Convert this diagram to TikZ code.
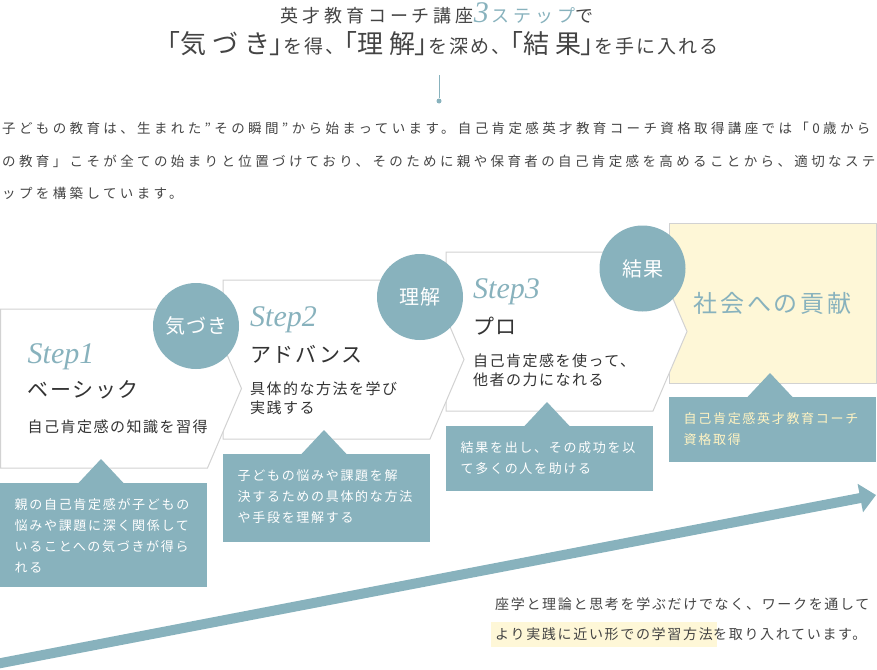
\documentclass[tikz,border=0pt]{standalone}
\usepackage{fontspec}
\setmainfont{Noto Sans CJK JP}
\newfontfamily\latinserif{Liberation Serif}
\usetikzlibrary{positioning,arrows.meta}
\newcommand\setfs[3]{\fontsize{#1}{#2}\selectfont\addfontfeature{LetterSpace=#3}}
\newcommand\palt[1]{{\addfontfeature{RawFeature=+palt}#1}}
\newcommand\headbig[1]{{\setfs{26}{26}{23}#1}}
\newcommand\headsmall[1]{{\setfs{19}{19}{11}#1}}
\begin{document}
\begin{tikzpicture}[x=1pt,y=-1pt,
  stepframe/.style={fill=white,draw=edgegray,line width=1pt},
  steplabel/.style={anchor=base west,inner sep=0,text=stepteal,font=\latinserif\itshape\fontsize{30}{30}\selectfont},
  stepname/.style={anchor=west,inner sep=0,text=inkdark,font=\setfs{21}{21}{8}},
  stepdesc/.style={anchor=west,inner sep=0,text=inkdark,align=left,font=\setfs{15}{19}{10}},
  keyword/.style={circle,fill=stepteal,minimum size=86pt,inner sep=0,text=white,font=\setfs{20}{20}{5}},
  notebox/.style={fill=stepteal,minimum width=207pt,anchor=north west,inner sep=0},
  notetext/.style={inner sep=0,align=left,font=\setfs{13}{21}{13}},
  intro/.style={anchor=west,inner sep=0,text=inkgray,font=\setfs{13.5}{13.5}{25}},
  method/.style={anchor=west,inner sep=0,text=inkgray,font=\setfs{14}{14}{12}}]
\definecolor{stepteal}{HTML}{88B2BD}
\definecolor{goalyellow}{HTML}{FEF7D7}
\definecolor{notecream}{HTML}{FFF3C2}
\definecolor{inkgray}{HTML}{444444}
\definecolor{inkdark}{HTML}{333333}
\definecolor{edgegray}{HTML}{D2D2D2}
\useasboundingbox (0,0) rectangle (877,669);

\node[anchor=base,inner sep=0,text=inkgray] (head1) at (437,23) {{\setfs{18}{18}{22}英才教育コーチ講座}{\color{stepteal}{\latinserif\itshape\fontsize{30}{30}\selectfont 3\hspace{3pt}}{\setfs{18}{18}{22}ステップ}}{\setfs{18}{18}{22}で}};
\node[anchor=base,inner sep=0,text=inkgray] (head2) at (443,54) {\headbig{\palt{「}気づき\palt{」}}\headsmall{を得、}\headbig{\palt{「}理解\palt{」}}\headsmall{を深め、}\headbig{\palt{「}結果\palt{」}}\headsmall{を手に入れる}};
\coordinate (lineTop) at (439,75);
\node[circle,fill=stepteal,inner sep=0,minimum size=5pt] (lineDot) at (439,101) {};
\draw[stepteal,line width=1pt] (lineTop) -- (lineDot);

\node[intro] (intro1) at (2,128) {子どもの教育は、生まれた”その瞬間”から始まっています。自己肯定感英才教育コーチ資格取得講座では「0歳から};
\node[intro] (intro2) at (2,161) {の教育」こそが全ての始まりと位置づけており、そのために親や保育者の自己肯定感を高めることから、適切なステ};
\node[intro] (intro3) at (2,193) {ップを構築しています。};

\node[draw=edgegray,fill=goalyellow,line width=1pt,minimum width=207pt,minimum height=160pt,inner sep=0,text=stepteal,font=\setfs{24}{24}{12}] (goal) at (772.5,303) {社会への貢献};
\foreach \n/\bx/\by in {3/446/252,2/223/280,1/0.5/309}
  \draw[stepframe] (\bx,\by) coordinate (frame\n) -- ++(207,0) -- ++(34,79.5) -- ++(-34,79.5) -- ++(-207,0) -- cycle;

\foreach \n/\sy/\ny/\title/\desc in {1/54/81/ベーシック/自己肯定感の知識を習得,2/46.5/74/アドバンス/{具体的な方法を学び\\実践する},3/46.5/74/プロ/{自己肯定感を使って、\\他者の力になれる}}{
  \node[steplabel] (label\n) at ([shift={(27,\sy)}]frame\n) {Step\n};
  \node[stepname] (name\n) at ([shift={(27,\ny)}]frame\n) {\title};
  \node[stepdesc] (desc\n) at ([shift={(27,118)}]frame\n) {\desc};
}

\foreach \n/\bx/\by/\bh/\ink/\txt in {1/0/483/104/white/{親の自己肯定感が子どもの\\悩みや課題に深く関係して\\いることへの気づきが得ら\\れる},2/223/454/88/white/{子どもの悩みや課題を解\\決するための具体的な方法\\や手段を理解する},3/446/426/65/white/{結果を出し、その成功を以\\て多くの人を助ける},4/669/397/65/notecream/{自己肯定感英才教育コーチ\\資格取得}}{
  \node[notebox,minimum height=\bh pt] (note\n) at (\bx,\by) {};
  \fill[stepteal] ([xshift=78.5pt]note\n.north west) -- ([xshift=101pt,yshift=24pt]note\n.north west) -- ([xshift=123.5pt]note\n.north west) -- cycle;
  \node[notetext,text=\ink,below right=15.5pt and 14.5pt of note\n.north west] (notetext\n) {\txt};
}

\foreach \n/\cx/\cy/\word in {1/196/326/気づき,2/420/297/理解,3/642.5/268.5/結果}
  \node[keyword] (keyword\n) at (\cx,\cy) {\word};

\coordinate (riseStart) at (-4,664);
\coordinate (riseEnd) at (876,495);
\draw[stepteal,line width=10pt,-{Triangle[width=28pt,length=16pt]}] (riseStart) -- (riseEnd);

\node[method] (method1) at (495,604) {座学と理論と思考を学ぶだけでなく、ワークを通して};
\node[method,fill=goalyellow,inner xsep=4pt,inner ysep=5.5pt] (method2a) at (491,634.5) {より実践に近い形での学習方法};
\node[method,right=-4pt of method2a] (method2b) {を取り入れています。};
\end{tikzpicture}
\end{document}
